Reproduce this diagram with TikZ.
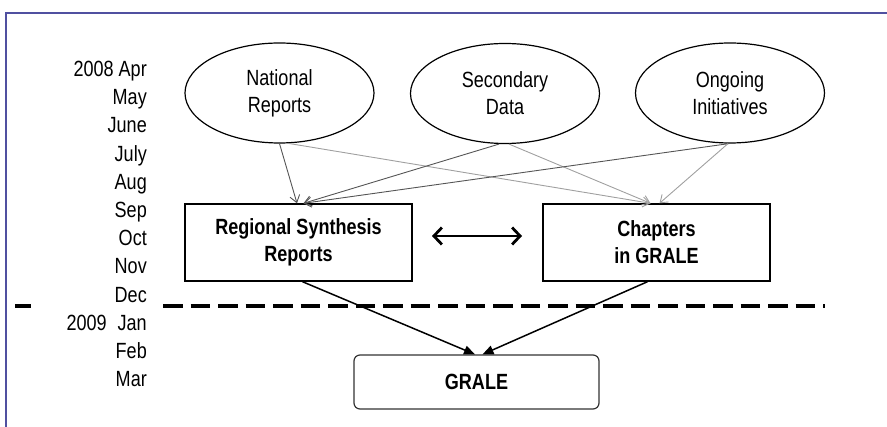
\documentclass[tikz,border=0pt]{standalone}
\usepackage{fontspec}
\setmainfont[FakeStretch=0.82]{Liberation Sans}
\usetikzlibrary{arrows.meta,shapes.geometric}
\definecolor{framec}{RGB}{80,80,160}
\definecolor{darkarr}{RGB}{85,85,85}
\definecolor{lightarr}{RGB}{160,160,160}
\tikzset{
  src/.style={ellipse, draw=black, line width=1.2pt, minimum width=189pt, minimum height=100pt, inner sep=0pt, align=center, font=\fontsize{22}{27}\selectfont},
  stagebox/.style={rectangle, draw=black, line width=1.4pt, minimum width=227pt, minimum height=77pt, inner sep=0pt, align=center, font=\fontsize{22}{27}\selectfont\bfseries},
  finalbox/.style={rectangle, rounded corners=6pt, draw=black!80, line width=1.2pt, minimum width=245pt, minimum height=54pt, inner sep=0pt, align=center, font=\fontsize{22}{27}\selectfont\bfseries},
  month/.style={anchor=base east, inner sep=0pt, font=\fontsize{22}{24}\selectfont},
  feed/.style={line width=0.9pt, -{Straight Barb[length=7pt,width=10pt]}},
  feeddark/.style={feed, draw=darkarr},
  feedlight/.style={feed, draw=lightarr},
  merge/.style={line width=1.5pt, -{Triangle[length=11pt,width=9pt]}},
  both/.style={line width=2.8pt, {Straight Barb[length=8pt,width=17pt]}-{Straight Barb[length=8pt,width=17pt]}},
  divider/.style={line width=4pt, dash pattern=on 19.5pt off 8pt},
  frame/.style={draw=framec, line width=2pt}
}
\begin{document}
\begin{tikzpicture}[x=1pt, y=-1pt]
\useasboundingbox (0,0) rectangle (887,427);
\draw[frame] (6,427) -- (6,13) -- (887,13);

% timeline divider
\draw[line width=4pt] (15,306) -- (31,306);
\draw[divider] (163,306) -- (825,306);

% months
\node[month] (m1) at (147,76.5) {2008 Apr};
\node[month] (m2) at (147,104.7) {May};
\node[month] (m3) at (147,132.9) {June};
\node[month] (m4) at (147,161.1) {July};
\node[month] (m5) at (147,189.3) {Aug};
\node[month] (m6) at (147,217.5) {Sep};
\node[month] (m7) at (147,245.7) {Oct};
\node[month] (m8) at (147,273.9) {Nov};
\node[month] (m9) at (147,302.1) {Dec};
\node[month] (m10) at (147,330.3) {2009\hspace{11pt}Jan};
\node[month] (m11) at (147,358.5) {Feb};
\node[month] (m12) at (147,386.7) {Mar};

% sources
\node[src] (nat) at (279.5,93) {National\\Reports};
\node[src] (sec) at (505,93.5) {Secondary\\Data};
\node[src] (ong) at (730,93) {Ongoing\\Initiatives};

% stages
\node[stagebox] (rsr) at (298.5,242.5) {Regional Synthesis\\Reports};
\node[stagebox] (chap) at (656.5,242.5) {Chapters\\in GRALE};
\node[finalbox] (grale) at (476.5,382) {GRALE};

% feeds
\draw[feeddark] (nat.south) -- ([xshift=-1.5pt]rsr.north);
\draw[feedlight] (nat.-80) -- ([xshift=-6pt]chap.north);
\draw[feeddark] ([xshift=-6pt]sec.south) -- ([xshift=5pt]rsr.north);
\draw[feedlight] ([xshift=4pt]sec.south) -- ([xshift=-6pt]chap.north);
\draw[feeddark] ([xshift=-1pt]ong.south) -- ([xshift=5pt]rsr.north);
\draw[feedlight] ([xshift=-2pt]ong.south) -- ([xshift=3pt]chap.north);

% exchange
\coordinate (exl) at (432,236);
\coordinate (exr) at (522,236);
\draw[both] (exl) -- (exr);

% merge
\draw[merge] ([xshift=4pt]rsr.south) -- ([xshift=-1.5pt]grale.north);
\draw[merge] ([xshift=-9pt]chap.south) -- ([xshift=6pt]grale.north);
\end{tikzpicture}
\end{document}
